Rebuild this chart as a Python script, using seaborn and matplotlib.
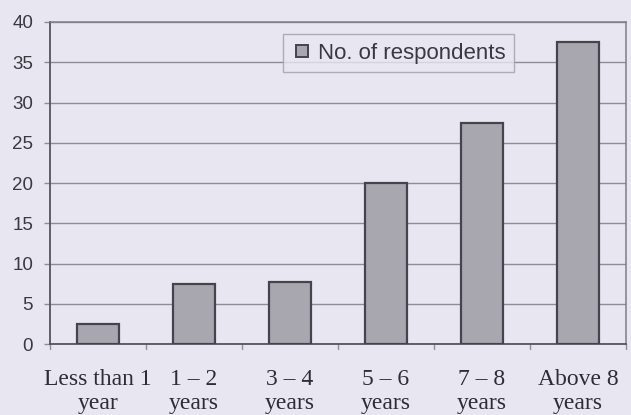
import matplotlib
matplotlib.use("Agg")
import matplotlib.pyplot as plt
import seaborn as sns
import pandas as pd
from matplotlib.lines import Line2D

# Years of experience and number of respondents
categories = ["Less than 1\nyear", "1 – 2\nyears", "3 – 4\nyears",
              "5 – 6\nyears", "7 – 8\nyears", "Above 8\nyears"]
respondents = [2.5, 7.5, 7.7, 20, 27.5, 37.5]
y_ticks = [0, 5, 10, 15, 20, 25, 30, 35, 40]

df = pd.DataFrame({"experience": categories, "respondents": respondents})

bg = "#e8e6f0"
bar_color = "#a8a7b0"
edge_color = "#45444c"
grid_color = "#8e8d96"

sns.set_theme(style="white")
plt.rcParams["font.family"] = ["Liberation Sans", "DejaVu Sans"]

fig = plt.figure(figsize=(6.31, 4.15), dpi=100, facecolor=bg)
ax = fig.add_axes([0.079, 0.171, 0.913, 0.776], facecolor=bg)

sns.barplot(data=df, x="experience", y="respondents", color=bar_color,
            edgecolor=edge_color, linewidth=1.6, width=0.43, saturation=1,
            ax=ax, zorder=3)

ax.set_xlim(-0.5, len(categories) - 0.5)
ax.set_ylim(0, 40)
ax.set_yticks(y_ticks)
ax.set_yticklabels([str(t) for t in y_ticks], fontsize=13.5, color="#3a3940")
ax.yaxis.grid(True, color=grid_color, linewidth=1.0, zorder=0)
ax.set_axisbelow(True)

# Category labels in a serif face under each bar
ax.set_xticks(range(len(categories)))
ax.set_xticklabels(categories, fontsize=17, color="#2e2d33",
                   family=["Liberation Serif", "DejaVu Serif"], linespacing=1.2)
ax.tick_params(axis="x", length=0, pad=18)
ax.tick_params(axis="y", left=True, length=4, width=1, color=grid_color, pad=8)

# Small ticks at the category boundaries
for b in [i - 0.5 for i in range(len(categories) + 1)]:
    ax.plot([b, b], [0, -0.6], color=grid_color, lw=1, clip_on=False)

for side in ["left", "bottom"]:
    ax.spines[side].set_color("#55545c")
    ax.spines[side].set_linewidth(1.3)
for side in ["top", "right"]:
    ax.spines[side].set_color("#7f7e87")
    ax.spines[side].set_linewidth(1.1)

ax.set_xlabel("")
ax.set_ylabel("")

handle = Line2D([], [], marker="s", linestyle="none", markersize=8.5,
                markerfacecolor=bar_color, markeredgecolor=edge_color,
                markeredgewidth=1.4)
leg = ax.legend([handle], ["No. of respondents"], loc="upper left",
                bbox_to_anchor=(0.405, 0.962), fontsize=16, frameon=True,
                fancybox=False, handletextpad=0.3, borderpad=0.38,
                handlelength=0.9, borderaxespad=0)
leg.get_frame().set_facecolor(bg)
leg.get_frame().set_edgecolor("#a09fa8")
leg.get_frame().set_linewidth(1.0)
for t in leg.get_texts():
    t.set_color("#3a3940")

fig.savefig("out.png", dpi=100, facecolor=bg)
